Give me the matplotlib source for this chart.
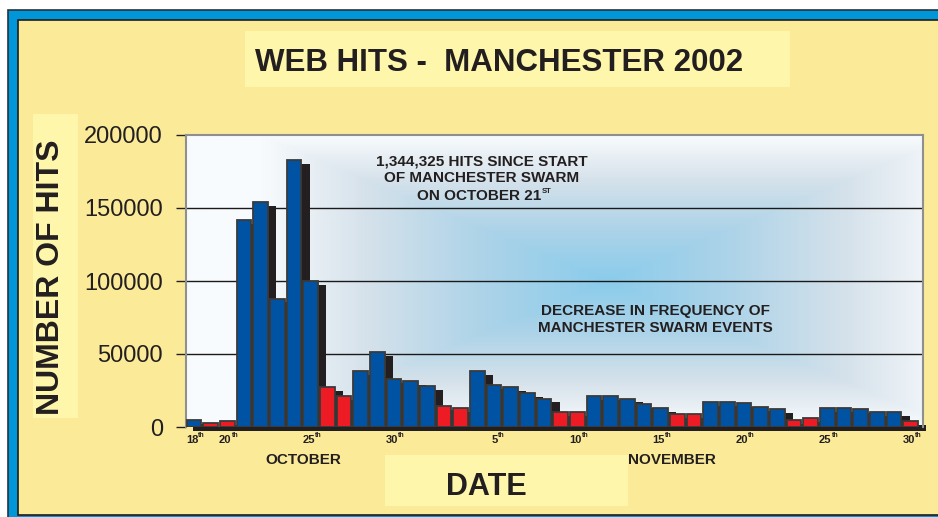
import matplotlib
matplotlib.use('Agg')
import matplotlib.pyplot as plt
import numpy as np
import datetime as dt
from matplotlib.patches import Rectangle
from matplotlib.colors import LinearSegmentedColormap

plt.rcParams['font.family'] = ['Liberation Sans', 'DejaVu Sans']

# ---------------- data ----------------
dates = [dt.date(2002, 10, d) for d in range(18, 32)] + [dt.date(2002, 11, d) for d in range(1, 31)]
hits = [5000, 2500, 4000, 142000, 154000, 88000, 183000, 100000, 27500, 21500,
        38500, 51500, 33000, 31500,
        28000, 14500, 13000, 38500, 29000, 27500, 23500, 19500, 10500, 10500,
        21000, 21000, 19500, 16000, 13000, 9000, 9200, 17400, 17400, 16200,
        13500, 12000, 4800, 6400, 13300, 13300, 12000, 10500, 10500, 4000]
label_dates = [dt.date(2002, 10, 18), dt.date(2002, 10, 20), dt.date(2002, 10, 25),
               dt.date(2002, 10, 30), dt.date(2002, 11, 5), dt.date(2002, 11, 10),
               dt.date(2002, 11, 15), dt.date(2002, 11, 20), dt.date(2002, 11, 25),
               dt.date(2002, 11, 30)]
tick_labels = [str(d.day) for d in label_dates]
ytick_vals = [0, 50000, 100000, 150000, 200000]
grid_vals = [50000, 100000, 150000]
title = "WEB HITS -  MANCHESTER 2002"
ylabel = "NUMBER OF HITS"
xlabel = "DATE"
months = ["OCTOBER", "NOVEMBER"]
note1 = ["1,344,325 HITS SINCE START", "OF MANCHESTER SWARM", "ON OCTOBER 21"]
note2 = ["DECREASE IN FREQUENCY OF", "MANCHESTER SWARM EVENTS"]

# ---------------- style ----------------
W, H = 938, 517
TXT = '#231F20'
BLUE = '#0052A2'
RED = '#ED1C24'
YEL = '#FBEB99'
YEL2 = '#FEF6AA'

fig = plt.figure(figsize=(W / 100, H / 100), dpi=100)
fig.patch.set_facecolor('white')


def px(x, y):
    return (x / W, 1 - y / H)


bg = fig.add_axes([0, 0, 1, 1], zorder=-5)
bg.set_xlim(0, W)
bg.set_ylim(H, 0)
bg.axis('off')
bg.add_patch(Rectangle((8, 10), 960, 540, fc='#0096D8', ec='#24343e', lw=1.2))
bg.add_patch(Rectangle((18, 20), 950, 495, fc=YEL, ec='#1c1c1c', lw=1.2))
bg.add_patch(Rectangle((245, 31), 545, 56, fc=YEL2, ec='none'))
bg.add_patch(Rectangle((33, 114), 45, 304, fc=YEL2, ec='none'))
bg.add_patch(Rectangle((385, 455), 243, 51, fc=YEL2, ec='none'))

# ---------------- main axes ----------------
ax = fig.add_axes([186 / W, 1 - 427 / H, 737 / W, 292 / H], zorder=1)
ax.set_facecolor('white')

cmap = LinearSegmentedColormap.from_list('bgblue', [
    (0.0, (248 / 255, 251 / 255, 253 / 255)),
    (0.3, (214 / 255, 226 / 255, 235 / 255)),
    (0.65, (172 / 255, 211 / 255, 232 / 255)),
    (1.0, (138 / 255, 204 / 255, 235 / 255))])
u = np.linspace(0, 1, 500)
v = np.linspace(0, 1, 250)
U, V = np.meshgrid(u, v)
fx = np.clip(1 - np.abs(U - 0.57) / 0.47, 0, 1)
fy = np.clip(1 - np.abs(V - 0.5) / 0.5, 0, 1)
f = np.minimum(fx, fy)
ax.imshow(f, cmap=cmap, vmin=0, vmax=1, extent=(0, 1, 0, 1), transform=ax.transAxes,
          origin='lower', aspect='auto', zorder=0, interpolation='bilinear')

for g in grid_vals:
    ax.axhline(g, color='#1a1a1a', lw=1.0, zorder=1)

x = np.arange(len(hits))
colors = [RED if d.weekday() >= 5 else BLUE for d in dates]
ax.bar(x + 0.45, hits, bottom=-2700, width=1.0, color=TXT, zorder=2, clip_on=False)
ax.bar(x, hits, width=0.88, color=colors, edgecolor='#3a3a3a', linewidth=1.3, zorder=3)

ax.set_xlim(-0.48, 43.75)
ax.set_ylim(0, 200000)

for s in ['top', 'right', 'left']:
    ax.spines[s].set_color('#8f8f8f')
    ax.spines[s].set_linewidth(1.5)
ax.spines['bottom'].set_visible(False)

ax.set_yticks(ytick_vals)
ax.set_yticklabels([str(v) for v in ytick_vals])
ax.tick_params(axis='y', length=7, width=1, color=TXT, pad=9.5, labelsize=17, labelcolor=TXT)
ax.set_xticks([])

for d, lab in zip(label_dates, tick_labels):
    i = dates.index(d)
    ax.annotate(lab, xy=(i, 0), xycoords='data', xytext=(3, -9.4), textcoords='offset points',
                ha='right', va='center', fontsize=8, fontweight='bold', color=TXT,
                annotation_clip=False)
    ax.annotate('th', xy=(i, 0), xycoords='data', xytext=(3.2, -6.0), textcoords='offset points',
                ha='left', va='center', fontsize=5, fontweight='bold', color=TXT,
                annotation_clip=False)

# ---------------- texts ----------------
fig.text(*px(499, 63), title, ha='center', va='center', fontsize=22.5, fontweight='bold', color=TXT)
fig.text(*px(51, 277), ylabel, ha='center', va='center', rotation=90, fontsize=23,
         fontweight='bold', color=TXT)
fig.text(*px(486, 487), xlabel, ha='center', va='center', fontsize=22, fontweight='bold', color=TXT)
fig.text(*px(303, 460), months[0], ha='center', va='center', fontsize=11, fontweight='bold', color=TXT)
fig.text(*px(672, 460), months[1], ha='center', va='center', fontsize=11, fontweight='bold', color=TXT)

fig.text(*px(482, 161), note1[0], ha='center', va='center', fontsize=11, fontweight='bold', color=TXT)
fig.text(*px(482, 178), note1[1], ha='center', va='center', fontsize=11, fontweight='bold', color=TXT)
fig.text(*px(541, 196.5), note1[2], ha='right', va='center', fontsize=11, fontweight='bold', color=TXT)
fig.text(*px(541.5, 191.5), 'ST', ha='left', va='center', fontsize=5.5, fontweight='bold', color=TXT)

fig.text(*px(655.5, 310.7), note2[0], ha='center', va='center', fontsize=11, fontweight='bold', color=TXT)
fig.text(*px(655.5, 327.7), note2[1], ha='center', va='center', fontsize=11, fontweight='bold', color=TXT)

fig.savefig('out.png', dpi=100)
